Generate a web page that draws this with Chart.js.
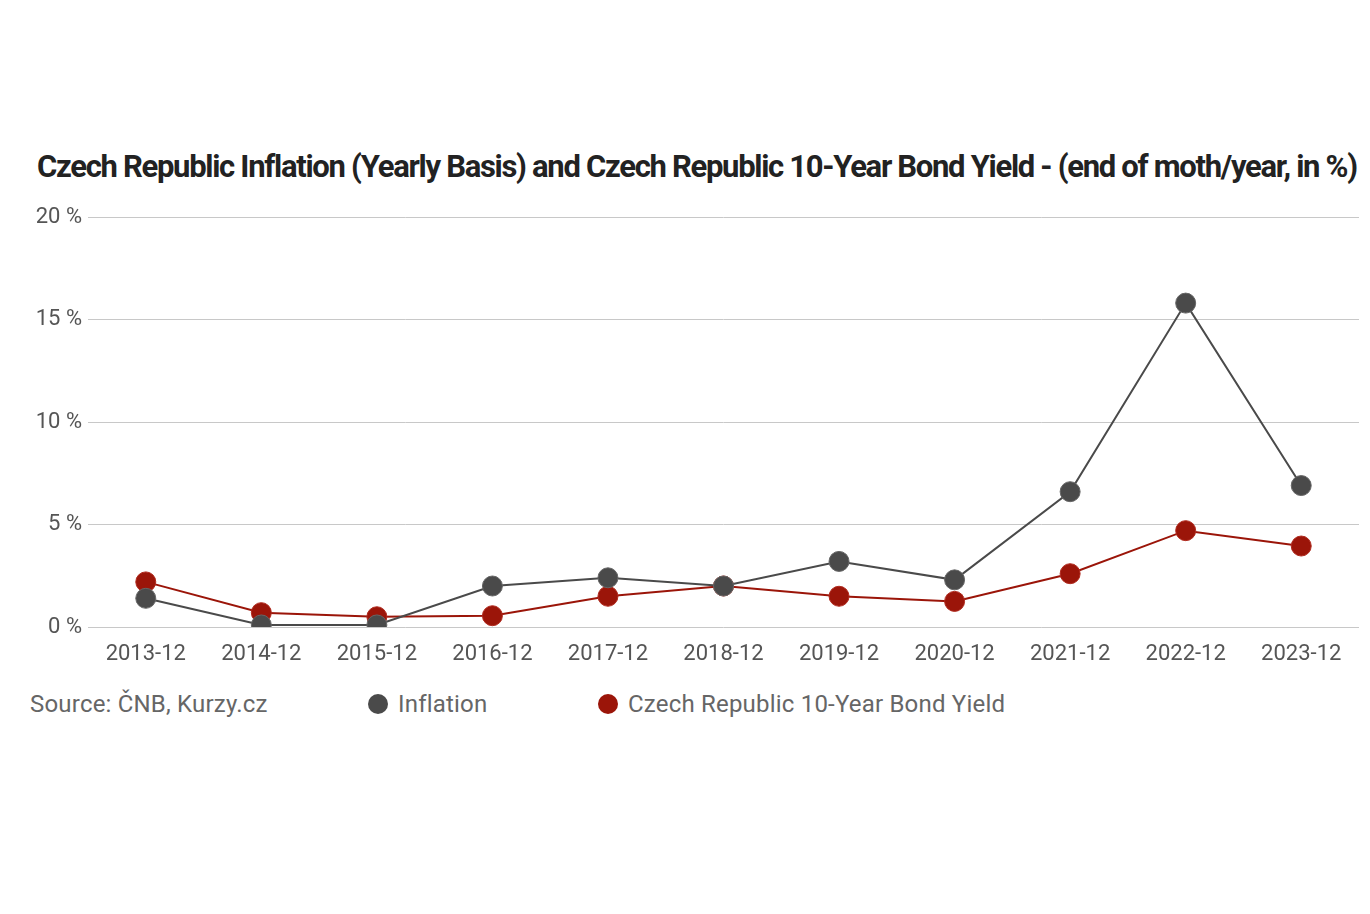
<!DOCTYPE html>
<html>
<head>
<meta charset="utf-8">
<script src="https://cdn.jsdelivr.net/npm/chart.js@4.4.1/dist/chart.umd.min.js"></script>
<style>
  body { margin: 0; background: #fff; width: 1370px; height: 914px; position: relative; overflow: hidden; }
  #title {
    position: absolute; top: 148px; left: 37px; width: 1330px;
    font-family: Roboto, sans-serif; font-weight: 700; font-size: 31px;
    letter-spacing: -1.3px; color: #222; white-space: nowrap;
  }
  #chartBox { position: absolute; top: 191px; left: 0; width: 1370px; height: 480px; }
  #legend {
    position: absolute; top: 690px; left: 30px; width: 1300px;
    font-family: Roboto, sans-serif; font-size: 24px; letter-spacing: 0.2px; color: #666; white-space: nowrap;
  }
  #legend span { position: absolute; top: 0; }
  .dot { display: inline-block; width: 20px; height: 20px; border-radius: 50%; vertical-align: -2px; margin-right: 10px; }
</style>
</head>
<body>
<div id="title">Czech Republic Inflation (Yearly Basis) and Czech Republic 10-Year Bond Yield - (end of moth/year, in %)</div>
<div id="chartBox"><canvas id="chart"></canvas></div>
<div id="legend">
  <span style="left:0">Source: ČNB, Kurzy.cz</span>
  <span style="left:338px"><i class="dot" style="background:#4a4a4a"></i>Inflation</span>
  <span style="left:568px"><i class="dot" style="background:#9b1509"></i>Czech Republic 10-Year Bond Yield</span>
</div>
<script>
const categories = ['2013-12', '2014-12', '2015-12', '2016-12', '2017-12', '2018-12', '2019-12', '2020-12', '2021-12', '2022-12', '2023-12'];
const inflation = [1.4, 0.1, 0.1, 2.0, 2.4, 2.0, 3.2, 2.3, 6.6, 15.8, 6.9];
const bondYield = [2.2, 0.7, 0.5, 0.55, 1.5, 2.0, 1.5, 1.25, 2.6, 4.7, 3.95];
const yTicks = [0, 5, 10, 15, 20];

const ctx = document.getElementById('chart').getContext('2d');

new Chart(ctx, {
    type: 'line',
    data: {
        labels: categories,
        datasets: [
            {
                label: 'Inflation',
                data: inflation,
                borderColor: '#4a4a4a',
                backgroundColor: '#4a4a4a',
                borderWidth: 2,
                pointRadius: 10,
                pointHoverRadius: 10,
                pointBorderWidth: 1,
                pointBorderColor: '#666',
                tension: 0
            },
            {
                label: 'Czech Republic 10-Year Bond Yield',
                data: bondYield,
                borderColor: '#9b1509',
                backgroundColor: '#9b1509',
                borderWidth: 2,
                pointRadius: 10,
                pointHoverRadius: 10,
                pointBorderWidth: 1,
                pointBorderColor: '#b02a1e',
                tension: 0
            }
        ]
    },
    options: {
        responsive: true,
        maintainAspectRatio: false,
        animation: false,
        layout: { padding: { top: 26, right: 10, left: 0, bottom: 0 } },
        scales: {
            x: {
                offset: true,
                grid: { display: false, drawTicks: false },
                border: { display: false },
                ticks: { color: '#555', padding: 14, font: { family: 'Roboto', size: 22 }, maxRotation: 0, autoSkip: false },
                afterFit: scale => { scale.height = 44; }
            },
            y: {
                min: 0,
                max: 20,
                afterBuildTicks: scale => { scale.ticks = yTicks.map(v => ({ value: v })); },
                grid: { color: '#c8c8c8', lineWidth: 1, drawTicks: false },
                border: { display: false },
                ticks: {
                    color: '#555', padding: 6, font: { family: 'Roboto', size: 22 },
                    callback: v => v + ' %'
                },
                afterFit: scale => { scale.width = 88; }
            }
        },
        plugins: {
            legend: { display: false },
            tooltip: { enabled: false }
        }
    }
});
</script>
</body>
</html>
